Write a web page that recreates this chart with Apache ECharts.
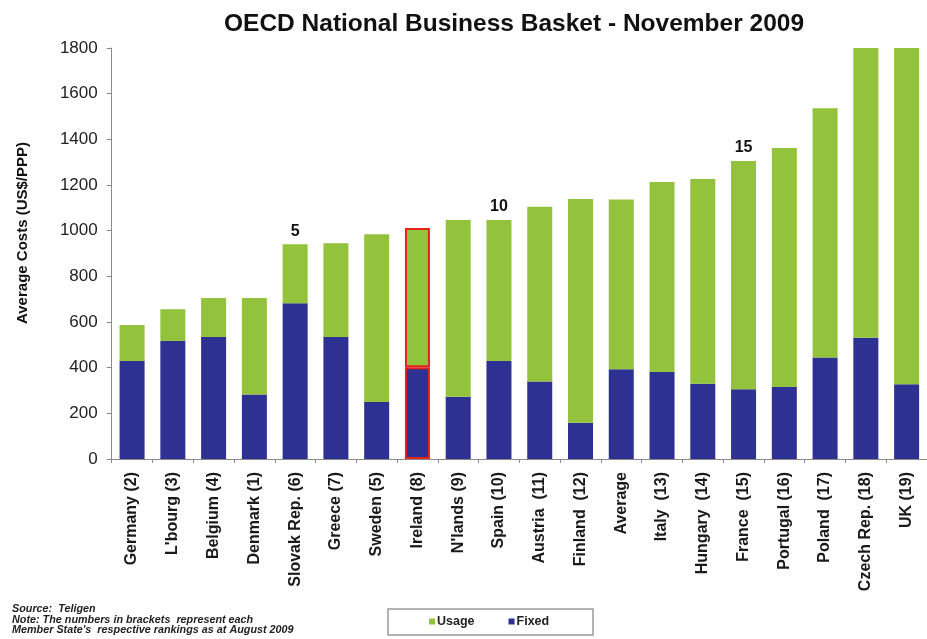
<!DOCTYPE html>
<html>
<head>
<meta charset="utf-8">
<title>OECD National Business Basket - November 2009</title>
<script src="https://cdn.jsdelivr.net/npm/echarts@6/dist/echarts.min.js"></script>
<style>
  html, body { margin: 0; padding: 0; background: #fff; }
  #chart { width: 927px; height: 639px; }
</style>
</head>
<body>
<div id="chart"></div>
<script>
// Countries with their ranking in brackets
var categories = [
  'Germany (2)', "L'bourg (3)", 'Belgium (4)', 'Denmark (1)', 'Slovak Rep. (6)',
  'Greece (7)', 'Sweden (5)', 'Ireland (8)', "N'lands (9)", 'Spain (10)',
  'Austria  (11)', 'Finland  (12)', 'Average', 'Italy  (13)', 'Hungary  (14)',
  'France  (15)', 'Portugal (16)', 'Poland  (17)', 'Czech Rep. (18)', 'UK (19)'
];

// Fixed charges (US$/PPP)
var fixedCosts = [429, 517, 534, 283, 682, 534, 250, 402, 273, 429,
                  339, 159, 393, 381, 330, 305, 315, 445, 531, 327];

// Usage charges (US$/PPP), stacked on top of fixed charges
var usageCosts = [158, 139, 171, 422, 258, 411, 734, 610, 774, 618,
                  766, 980, 743, 832, 896, 1000, 1047, 1091, 1269, 1473];

// Ranking markers written above selected bars
var rankMarks = ['', '', '', '', '5', '', '', '', '', '10',
                 '', '', '', '', '', '15', '', '', '', ''];

// Value axis ticks
var yTicks = { min: 0, max: 1800, step: 200 };

var highlighted = 'Ireland (8)';

var GREEN = '#93C23D';
var BLUE = '#2E3192';
var RED = '#E2231A';
var FONT = '"Liberation Sans", Arial, sans-serif';

function withHighlight(values) {
  return values.map(function (v, i) {
    if (categories[i] === highlighted) {
      return { value: v, itemStyle: { borderColor: RED, borderWidth: 2 } };
    }
    return v;
  });
}

var chart = echarts.init(document.getElementById('chart'), null, { renderer: 'canvas' });

chart.setOption({
  animation: false,
  backgroundColor: '#ffffff',
  textStyle: { fontFamily: FONT },
  title: {
    text: 'OECD National Business Basket - November 2009',
    left: 509,
    top: 7,
    textAlign: 'center',
    textStyle: {
      fontFamily: FONT,
      fontSize: 24.5,
      fontWeight: 'bold',
      color: '#111'
    }
  },
  grid: {
    left: 111.7,
    right: -6.7,
    top: 48,
    bottom: 180,
    containLabel: false
  },
  legend: {
    data: ['Usage', 'Fixed'],
    left: 429,
    top: 615,
    padding: 0,
    itemGap: 34,
    itemWidth: 6,
    itemHeight: 6,
    icon: 'rect',
    selectedMode: false,
    textStyle: {
      fontFamily: FONT,
      fontSize: 12.5,
      fontWeight: 'bold',
      color: '#222',
      padding: [0, 0, 0, -3]
    }
  },
  xAxis: {
    type: 'category',
    data: categories,
    axisLine: { lineStyle: { color: '#8a8a8a', width: 1 } },
    axisTick: { show: true, length: 4, lineStyle: { color: '#8a8a8a' } },
    axisLabel: {
      interval: 0,
      rotate: 90,
      margin: 13,
      fontFamily: FONT,
      fontSize: 16,
      fontWeight: 'bold',
      color: '#1a1a1a'
    }
  },
  yAxis: {
    type: 'value',
    min: yTicks.min,
    max: yTicks.max,
    interval: yTicks.step,
    splitLine: { show: false },
    axisLine: { show: true, lineStyle: { color: '#8a8a8a', width: 1 } },
    axisTick: { show: true, length: 5, lineStyle: { color: '#8a8a8a' } },
    axisLabel: {
      margin: 14,
      fontFamily: FONT,
      fontSize: 17,
      color: '#222',
      formatter: function (v) { return String(v); }
    }
  },
  series: [
    {
      name: 'Fixed',
      type: 'bar',
      stack: 'cost',
      barWidth: 25,
      itemStyle: { color: BLUE },
      data: withHighlight(fixedCosts)
    },
    {
      name: 'Usage',
      type: 'bar',
      stack: 'cost',
      barWidth: 25,
      itemStyle: { color: GREEN },
      label: {
        show: true,
        position: 'top',
        distance: 5,
        fontFamily: FONT,
        fontSize: 16,
        fontWeight: 'bold',
        color: '#111',
        formatter: function (p) { return rankMarks[p.dataIndex]; }
      },
      data: withHighlight(usageCosts)
    }
  ],
  graphic: [
    {
      type: 'text',
      rotation: Math.PI / 2,
      x: 23,
      y: 233,
      style: {
        text: 'Average Costs (US$/PPP)',
        x: 0,
        y: 0,
        align: 'center',
        verticalAlign: 'middle',
        font: 'bold 15px ' + FONT,
        fill: '#111'
      }
    },
    {
      type: 'rect',
      shape: { x: 388, y: 609, width: 205, height: 26 },
      style: { fill: 'none', stroke: '#9a9a9a', lineWidth: 1.5 },
      z: 0
    },
    {
      type: 'text',
      x: 12,
      y: 604,
      style: {
        text: "Source:  Teligen\nNote: The numbers in brackets  represent each\nMember State's  respective rankings as at August 2009",
        font: 'italic bold 10.8px ' + FONT,
        lineHeight: 10.5,
        fill: '#222'
      }
    }
  ]
});
</script>
</body>
</html>
